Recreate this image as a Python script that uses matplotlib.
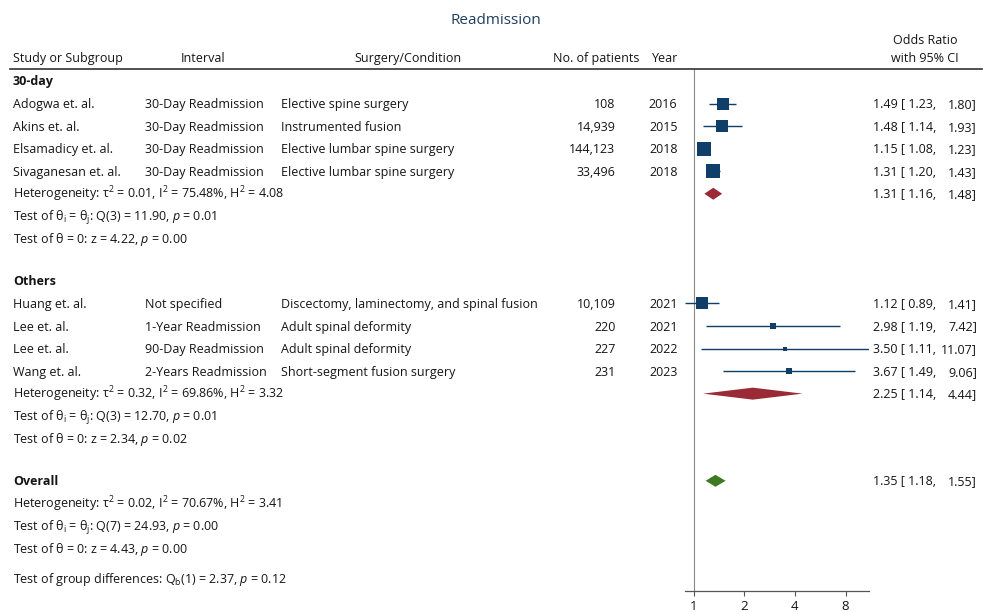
import matplotlib
matplotlib.use('Agg')
import matplotlib.pyplot as plt
import matplotlib.transforms as mtransforms
import numpy as np

plt.rcParams['font.family'] = ['Open Sans', 'DejaVu Sans']
plt.rcParams['mathtext.fontset'] = 'custom'
plt.rcParams['mathtext.rm'] = 'Open Sans'
plt.rcParams['mathtext.it'] = 'Open Sans:italic'
plt.rcParams['mathtext.bf'] = 'Open Sans:bold'

# study level data
studies = ['Adogwa et. al.', 'Akins et. al.', 'Elsamadicy et. al.', 'Sivaganesan et. al.',
           'Huang et. al.', 'Lee et. al.', 'Lee et. al.', 'Wang et. al.']
intervals = ['30-Day Readmission', '30-Day Readmission', '30-Day Readmission', '30-Day Readmission',
             'Not specified', '1-Year Readmission', '90-Day Readmission', '2-Years Readmission']
surgeries = ['Elective spine surgery', 'Instrumented fusion', 'Elective lumbar spine surgery',
             'Elective lumbar spine surgery', 'Discectomy, laminectomy, and spinal fusion',
             'Adult spinal deformity', 'Adult spinal deformity', 'Short-segment fusion surgery']
patients = [108, 14939, 144123, 33496, 10109, 220, 227, 231]
years = [2016, 2015, 2018, 2018, 2021, 2021, 2022, 2023]
or_est = [1.49, 1.48, 1.15, 1.31, 1.12, 2.98, 3.50, 3.67]
or_lo = [1.23, 1.14, 1.08, 1.20, 0.89, 1.19, 1.11, 1.49]
or_hi = [1.80, 1.93, 1.23, 1.43, 1.41, 7.42, 11.07, 9.06]
weights = [17.6, 13.6, 23.7, 23.1, 14.9, 2.8, 2.4, 2.8]
groups = ['30-day', '30-day', '30-day', '30-day', 'Others', 'Others', 'Others', 'Others']

# subgroup summaries
group_names = ['30-day', 'Others']
group_est = [1.31, 2.25]
group_lo = [1.16, 1.14]
group_hi = [1.48, 4.44]
group_tau2 = [0.01, 0.32]
group_i2 = [75.48, 69.86]
group_h2 = [4.08, 3.32]
group_q = [11.90, 12.70]
group_qdf = [3, 3]
group_qp = [0.01, 0.01]
group_z = [4.22, 2.34]
group_zp = [0.00, 0.02]

# overall summary
overall_est, overall_lo, overall_hi = 1.35, 1.18, 1.55
overall_tau2, overall_i2, overall_h2 = 0.02, 70.67, 3.41
overall_q, overall_qdf, overall_qp = 24.93, 7, 0.00
overall_z, overall_zp = 4.43, 0.00
qb, qb_df, qb_p = 2.37, 1, 0.12

x_ticks = [1, 2, 4, 8]

NAVY = '#0f3f68'
MAROON = '#9a2a36'
GREEN = '#3e7a22'
TXT = '#151515'

W, H = 987, 612
fig = plt.figure(figsize=(W / 100, H / 100), dpi=100)

# forest panel; y data units are pixel rows of the figure
ax_l, ax_r, ax_t, ax_b = 685, 869.3, 69, 590.7
ax = fig.add_axes([ax_l / W, 1 - ax_b / H, (ax_r - ax_l) / W, (ax_b - ax_t) / H])
ax.set_xscale('log', base=2)
ax.set_xlim(min(or_lo), max(or_hi))
ax.set_ylim(ax_b, ax_t)
for s in ['top', 'right', 'left']:
    ax.spines[s].set_visible(False)
ax.spines['bottom'].set_color('#555555')
ax.spines['bottom'].set_linewidth(0.9)
ax.set_yticks([])
ax.set_xticks(x_ticks)
ax.set_xticklabels([str(t) for t in x_ticks])
ax.xaxis.set_minor_locator(matplotlib.ticker.NullLocator())
ax.tick_params(axis='x', length=3.5, width=0.8, color='#555555', labelsize=9.5,
               labelcolor=TXT, pad=3)
ax.axvline(1, color='#8a8a8a', lw=0.8, zorder=0)

tr = mtransforms.blended_transform_factory(fig.transFigure, ax.transData)
BASE = 4.5  # baseline offset below row centre, in pixels


def put(px, y, s, **kw):
    kw.setdefault('fontsize', 9)
    kw.setdefault('color', TXT)
    ax.text(px / W, y + BASE, s, transform=tr, clip_on=False, va='baseline', **kw)


# title and header
put(496, 19.5, 'Readmission', fontsize=11, ha='center', color='#203f5e')
hdr_y = 57.5
put(13, hdr_y, 'Study or Subgroup')
put(203, hdr_y, 'Interval', ha='center')
put(408, hdr_y, 'Surgery/Condition', ha='center')
put(596, hdr_y, 'No. of patients', ha='center')
put(665, hdr_y, 'Year', ha='center')
put(925, 40, 'Odds Ratio', ha='center')
put(925, hdr_y, 'with 95% CI', ha='center')
ax.plot([10 / W, 982 / W], [ax_t, ax_t], transform=tr, clip_on=False,
        color='#333333', lw=1.2)

STEP = 22.55
GAP = 19.5
DIAMOND_H = 6.0


def ci_text(y, est, lo, hi):
    put(873, y, f'{est:.2f} [{lo:5.2f},')
    put(977, y, f'{hi:.2f}]', ha='right')


def diamond(y, est, lo, hi, color):
    ax.fill([lo, est, hi, est], [y, y - DIAMOND_H, y, y + DIAMOND_H],
            color=color, lw=0, zorder=3)


def stats_rows(y, tau2, i2, h2, q, qdf, qp, z, zp):
    put(13, y, f'Heterogeneity: τ$^\\mathregular{{2}}$ = {tau2:.2f}, '
               f'I$^\\mathregular{{2}}$ = {i2:.2f}%, H$^\\mathregular{{2}}$ = {h2:.2f}')
    y += STEP
    put(13, y, f'Test of θ$_\\mathregular{{i}}$ = θ$_\\mathregular{{j}}$: '
               f'Q({qdf}) = {q:.2f}, $\\mathit{{p}}$ = {qp:.2f}')
    y += STEP
    put(13, y, f'Test of θ = 0: z = {z:.2f}, $\\mathit{{p}}$ = {zp:.2f}')
    return y + STEP


y = 81.0
for g, name in enumerate(group_names):
    put(13, y, name, fontweight='bold')
    y += STEP
    for i in [k for k, gg in enumerate(groups) if gg == name]:
        put(13, y, studies[i])
        put(145, y, intervals[i])
        put(281, y, surgeries[i])
        put(615.5, y, f'{patients[i]:,}', ha='right')
        put(677.5, y, str(years[i]), ha='right')
        ax.hlines(y, or_lo[i], or_hi[i], color=NAVY, lw=1.0, zorder=2)
        side = 3.0 * np.sqrt(weights[i]) * 0.72
        ax.scatter([or_est[i]], [y], marker='s', s=side ** 2, color=NAVY,
                   linewidths=0, zorder=4)
        ci_text(y, or_est[i], or_lo[i], or_hi[i])
        y += STEP
    diamond(y, group_est[g], group_lo[g], group_hi[g], MAROON)
    ci_text(y, group_est[g], group_lo[g], group_hi[g])
    y = stats_rows(y, group_tau2[g], group_i2[g], group_h2[g], group_q[g],
                   group_qdf[g], group_qp[g], group_z[g], group_zp[g])
    y += GAP

put(13, y, 'Overall', fontweight='bold')
diamond(y, overall_est, overall_lo, overall_hi, GREEN)
ci_text(y, overall_est, overall_lo, overall_hi)
y += STEP
y = stats_rows(y, overall_tau2, overall_i2, overall_h2, overall_q,
               overall_qdf, overall_qp, overall_z, overall_zp)
y += 7
put(13, y, f'Test of group differences: Q$_\\mathregular{{b}}$({qb_df}) = {qb:.2f}, '
           f'$\\mathit{{p}}$ = {qb_p:.2f}')

fig.savefig('out.png', dpi=100)
